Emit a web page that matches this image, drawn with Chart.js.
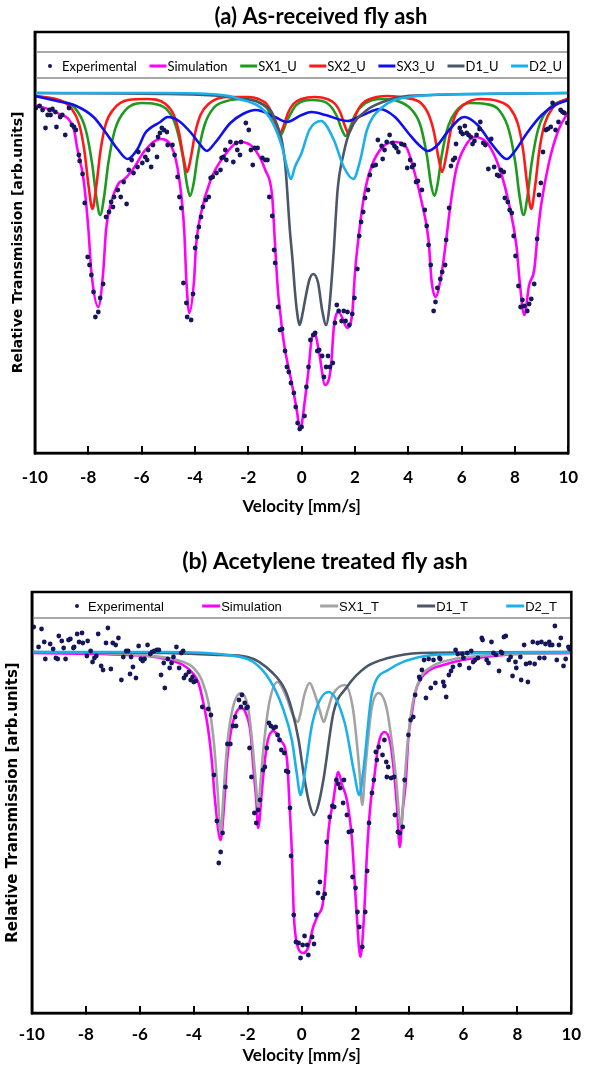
<!DOCTYPE html>
<html>
<head>
<meta charset="utf-8">
<script src="https://cdn.jsdelivr.net/npm/chart.js@4.4.0/dist/chart.umd.min.js"></script>
<style>
  html, body { margin: 0; padding: 0; background: #fff; }
  .panel { position: absolute; left: 0; width: 600px; }
  #panelA { top: 0; height: 535px; }
  #panelB { top: 535px; height: 538px; }
</style>
</head>
<body>
<div class="panel" id="panelA"><canvas id="chartA" width="600" height="535"></canvas></div>
<div class="panel" id="panelB"><canvas id="chartB" width="600" height="538"></canvas></div>
<script>
// ---------------------------------------------------------------- DATA (velocity in mm/s, transmission in arb. units)
const velTicks = [-10, -8, -6, -4, -2, 0, 2, 4, 6, 8, 10];

// (a) As-received fly ash
const expA_v = [-9.96,-9.82,-9.71,-9.60,-9.52,-9.45,-9.41,-9.34,-9.23,-9.19,-9.05,-8.97,-8.86,-8.72,-8.61,-8.53,-8.46,-8.35,-8.32,-8.21,-8.13,-8.02,-7.95,-7.88,-7.80,-7.73,-7.62,-7.55,-7.44,-7.33,-7.22,-7.14,-7.07,-7.03,-6.89,-6.78,-6.67,-6.56,-6.48,-6.37,-6.30,-6.15,-6.12,-5.97,-5.86,-5.79,-5.75,-5.64,-5.57,-5.42,-5.38,-5.31,-5.24,-5.16,-5.05,-5.02,-4.84,-4.76,-4.65,-4.58,-4.51,-4.43,-4.32,-4.29,-4.14,-4.07,-3.99,-3.92,-3.85,-3.77,-3.70,-3.59,-3.48,-3.41,-3.33,-3.19,-3.04,-3.00,-2.93,-2.86,-2.82,-2.67,-2.56,-2.45,-2.41,-2.31,-2.27,-2.09,-1.98,-1.90,-1.83,-1.76,-1.65,-1.47,-1.36,-1.28,-1.21,-1.10,-1.03,-0.99,-0.88,-0.81,-0.73,-0.62,-0.55,-0.48,-0.40,-0.29,-0.22,-0.15,-0.07,0.00,0.11,0.18,0.26,0.33,0.44,0.51,0.59,0.66,0.77,0.84,0.92,0.99,1.06,1.17,1.25,1.32,1.39,1.50,1.58,1.65,1.72,1.79,1.90,1.98,2.09,2.16,2.23,2.31,2.38,2.49,2.56,2.67,2.78,2.86,3.00,3.04,3.11,3.19,3.30,3.41,3.48,3.55,3.63,3.74,3.85,3.96,4.07,4.14,4.21,4.29,4.36,4.51,4.62,4.69,4.76,4.84,4.95,5.02,5.09,5.20,5.27,5.38,5.42,5.53,5.60,5.68,5.75,5.79,5.93,5.97,6.04,6.12,6.19,6.26,6.34,6.41,6.48,6.56,6.67,6.70,6.81,6.89,7.00,7.11,7.22,7.33,7.40,7.47,7.58,7.62,7.73,7.80,7.88,7.95,8.02,8.13,8.21,8.28,8.35,8.46,8.53,8.61,8.72,8.83,8.90,8.97,9.05,9.16,9.23,9.34,9.41,9.52,9.63,9.71,9.78,9.85,9.96];
const expA_t = [345,347,343,325,338,343,338,344,341,326,336,338,318,345,328,326,323,298,292,279,250,196,188,178,161,136,141,155,169,236,241,251,246,256,263,256,271,249,283,293,280,286,301,290,296,293,303,286,308,296,316,320,325,323,321,308,308,298,276,256,245,170,150,136,133,159,205,216,226,236,246,253,256,275,276,280,283,295,296,303,293,311,291,310,303,298,311,330,323,303,288,305,305,295,293,293,256,237,203,190,146,123,124,102,86,81,70,60,46,30,24,26,37,66,86,113,118,120,102,103,97,76,86,97,86,90,130,148,142,132,142,132,141,128,139,155,184,217,231,241,255,263,278,287,288,313,307,294,303,311,318,310,307,305,301,309,308,285,293,286,288,271,272,263,243,227,208,188,142,151,165,174,181,188,213,245,287,293,295,309,325,321,319,327,320,318,316,309,312,318,324,331,310,308,284,314,286,278,277,283,281,255,251,243,240,217,197,167,146,153,147,142,149,154,169,214,258,270,301,323,324,326,350,323,331,343,341,340,330];

const simA_v = [-10.0,-9.16,-8.53,-8.42,-8.17,-7.99,-7.88,-7.62,-7.44,-7.33,-7.14,-6.85,-6.67,-6.34,-5.86,-5.31,-4.87,-4.58,-4.40,-4.32,-4.21,-4.03,-3.96,-3.77,-3.41,-2.93,-2.31,-1.83,-1.36,-1.10,-0.99,-0.88,-0.81,-0.73,-0.62,-0.37,-0.18,-0.07,0.0,0.11,0.26,0.37,0.48,0.66,0.88,1.10,1.21,1.39,1.72,1.90,2.01,2.20,2.38,2.64,3.04,3.48,3.92,4.21,4.51,4.76,4.87,5.02,5.24,5.42,5.57,5.79,6.12,6.48,6.96,7.44,7.80,8.06,8.17,8.35,8.53,8.72,8.83,8.97,9.27,9.63,10.0];
const simA_t = [348,340,323,306,273,223,181,146,180,223,250,270,273,283,303,314,306,273,223,173,140,173,206,240,273,296,311,306,283,256,206,160,143,123,103,70,43,25,28,50,83,113,120,100,68,86,126,141,125,140,183,230,263,288,306,311,306,283,250,213,173,156,178,213,246,283,306,316,310,283,246,206,173,138,168,183,213,246,290,323,341];

const sx1A_v = [-10,-9.0,-8.5,-8.1,-7.85,-7.7,-7.55,-7.4,-7.25,-7.0,-6.6,-6.0,-5.5,-5.0,-4.7,-4.45,-4.3,-4.18,-4.05,-3.9,-3.65,-3.3,-2.8,-2.2,-1.7,-1.3,-1.05,-0.81,-0.55,-0.2,0.4,0.95,1.3,1.5,1.65,1.8,2.0,2.35,3.0,3.6,4.1,4.45,4.7,4.85,4.98,5.1,5.25,5.5,5.8,6.3,6.9,7.4,7.77,8.02,8.17,8.32,8.47,8.62,8.87,9.3,10];
const sx1A_t = [357,352,345,324,289,257,238,257,289,323,343,350,349,342,326,296,269,257,269,296,327,345,352,354,352,345,331,317,332,348,353,350,338,324,317,324,338,349,354,352,344,328,297,269,257,269,297,327,342,350,349,343,323,289,257,238,257,289,324,345,354];

const sx2A_v = [-10,-9.0,-8.64,-8.34,-8.14,-7.99,-7.84,-7.69,-7.54,-7.34,-7.04,-6.5,-5.8,-5.1,-4.79,-4.59,-4.44,-4.29,-4.14,-3.99,-3.79,-3.49,-2.8,-2.0,-1.61,-1.31,-1.11,-0.96,-0.81,-0.66,-0.51,-0.31,0.0,0.5,0.96,1.26,1.46,1.61,1.76,1.91,2.06,2.26,2.56,3.2,3.9,4.47,4.77,4.97,5.12,5.27,5.42,5.57,5.77,6.07,6.7,7.35,7.81,8.11,8.31,8.46,8.61,8.76,8.91,9.11,9.41,10];
const sx2A_t = [357,352,345,329,302,268,244,268,302,329,344,353,354,349,338,320,297,281,297,320,338,349,356,356,354,349,340,328,320,328,340,349,354,356,354,349,340,328,320,328,340,349,354,357,355,350,338,320,297,281,297,320,338,348,354,352,345,329,302,268,244,268,302,329,345,355];

const sx3A_v = [-10,-9.0,-8.53,-7.8,-7.33,-6.9,-6.52,-6.15,-5.86,-5.3,-5.02,-4.6,-4.14,-3.85,-3.55,-3.25,-2.67,-2.2,-1.72,-1.0,-0.55,0.0,0.37,0.9,1.72,2.3,2.93,3.5,4.0,4.4,4.73,5.1,5.5,6.1,6.6,7.1,7.4,7.69,8.0,8.45,9.0,9.5,10];
const sx3A_t = [357,351,348,336,320,304,294,304,320,331,336,332,320,310,302,310,330,339,343,336,331,338,341,338,332,338,344,336,320,308,302,308,322,336,328,310,300,294,302,320,338,348,353];

const d1A_v = [-10,-5.0,-3.0,-2.5,-1.57,-0.99,-0.62,-0.44,-0.33,-0.26,-0.18,-0.07,0.04,0.11,0.29,0.44,0.62,0.77,0.92,1.03,1.2,1.35,1.58,1.83,2.45,3.04,3.66,4.87,10];
const d1A_t = [360,359,357,355,350,333,290,223,190,165,143,128,140,150,173,179,170,143,128,143,200,263,300,323,343,351,356,358,360];

const d2A_v = [-10,-5.0,-3.0,-2.45,-1.21,-0.73,-0.55,-0.40,-0.25,0.0,0.29,0.73,1.21,1.58,1.94,2.2,2.45,3.04,4.03,6.1,10];
const d2A_t = [360,360,358,355,336,306,286,274,286,300,323,332,313,286,274,293,323,346,356,359,360];

// (b) Acetylene treated fly ash
const expB_v = [-9.93,-9.75,-9.64,-9.54,-9.5,-9.32,-9.21,-9.11,-9.04,-9.0,-8.89,-8.82,-8.75,-8.64,-8.57,-8.46,-8.43,-8.32,-8.25,-8.14,-8.11,-7.96,-7.93,-7.82,-7.75,-7.68,-7.61,-7.54,-7.43,-7.36,-7.25,-7.18,-7.07,-7.0,-6.89,-6.79,-6.68,-6.61,-6.5,-6.43,-6.36,-6.32,-6.25,-6.14,-6.04,-5.96,-5.89,-5.82,-5.71,-5.61,-5.54,-5.46,-5.36,-5.29,-5.21,-5.11,-5.07,-4.96,-4.89,-4.82,-4.75,-4.64,-4.54,-4.46,-4.39,-4.36,-4.29,-4.18,-4.11,-4.04,-4.0,-3.93,-3.68,-3.46,-3.36,-3.25,-3.14,-3.07,-3.0,-2.93,-2.82,-2.75,-2.64,-2.54,-2.46,-2.43,-2.32,-2.25,-2.21,-2.11,-2.04,-2.0,-1.93,-1.86,-1.75,-1.68,-1.61,-1.54,-1.43,-1.36,-1.29,-1.21,-1.14,-1.04,-0.96,-0.89,-0.82,-0.75,-0.64,-0.57,-0.5,-0.43,-0.39,-0.29,-0.21,-0.11,-0.04,0.04,0.11,0.21,0.25,0.39,0.46,0.54,0.61,0.68,0.79,0.86,0.93,1.04,1.14,1.21,1.29,1.36,1.43,1.54,1.57,1.68,1.75,1.86,1.89,2.0,2.07,2.14,2.25,2.36,2.43,2.5,2.61,2.68,2.75,2.79,2.86,3.0,3.07,3.14,3.16,3.21,3.32,3.43,3.46,3.57,3.64,3.75,3.82,3.96,4.04,4.14,4.21,4.36,4.39,4.46,4.54,4.61,4.71,4.79,4.89,4.96,5.11,5.14,5.25,5.29,5.36,5.46,5.54,5.61,5.71,5.79,5.86,5.96,6.0,6.14,6.21,6.29,6.36,6.43,6.54,6.68,6.71,6.86,6.93,7.04,7.11,7.21,7.32,7.39,7.43,7.5,7.57,7.68,7.75,7.82,7.93,7.96,8.11,8.14,8.25,8.32,8.39,8.46,8.57,8.64,8.75,8.82,8.89,9.0,9.04,9.18,9.21,9.29,9.39,9.46,9.54,9.61,9.71,9.79,9.89,9.93];
const expB_t = [386,366,384,371,354,369,364,355,354,377,372,365,354,373,374,365,366,379,371,380,370,357,372,362,351,355,357,379,347,343,370,385,344,370,368,375,333,356,362,362,339,356,346,335,367,354,352,354,368,359,361,362,363,363,338,350,325,354,345,350,356,366,345,360,362,335,338,341,333,336,331,332,306,304,298,238,192,150,161,180,226,269,269,287,296,287,313,306,318,310,305,306,265,236,200,190,203,213,243,246,265,290,287,285,286,278,273,263,260,242,241,205,157,98,71,70,55,68,77,68,58,76,69,98,120,131,115,119,171,196,207,206,233,229,225,210,233,198,181,182,136,125,101,86,66,101,142,190,220,233,261,253,266,258,273,251,236,246,235,236,198,181,180,186,233,278,293,296,318,336,334,343,353,315,354,325,353,330,355,354,331,327,316,338,342,346,363,359,348,359,355,360,345,362,351,353,355,375,373,353,350,371,360,358,342,361,360,376,377,353,356,337,351,345,356,333,368,349,331,350,371,349,370,355,371,355,369,371,368,368,387,353,368,375,347,354,366,364];

const simB_v = [-10,-5.71,-4.89,-4.39,-4.04,-3.82,-3.64,-3.46,-3.32,-3.21,-3.0,-2.86,-2.75,-2.61,-2.43,-2.25,-2.07,-1.89,-1.79,-1.68,-1.61,-1.46,-1.36,-1.25,-1.04,-0.79,-0.54,-0.46,-0.36,-0.29,-0.18,0.07,0.25,0.43,0.61,0.79,0.89,1.0,1.18,1.36,1.5,1.68,1.86,2.04,2.18,2.32,2.43,2.57,2.68,2.86,3.07,3.29,3.43,3.54,3.64,3.75,3.86,3.96,4.07,4.21,4.39,4.75,5.25,5.96,6.79,7.96,10];
const simB_t = [360,357,353,348,340,330,310,283,250,213,173,213,256,283,300,305,300,280,246,213,185,226,253,273,282,273,253,215,160,100,70,60,66,86,98,110,140,183,213,241,228,213,176,100,56,100,163,213,233,270,281,270,240,205,166,203,230,276,296,320,333,343,348,353,356,359,360];

const sx1B_v = [-10,-6,-4.5,-4.0,-3.7,-3.45,-3.25,-3.12,-3.0,-2.88,-2.75,-2.55,-2.25,-1.98,-1.82,-1.71,-1.61,-1.51,-1.4,-1.2,-0.89,-0.55,-0.35,-0.14,-0.02,0.1,0.3,0.5,0.68,0.82,0.96,1.15,1.61,1.9,2.05,2.15,2.25,2.35,2.45,2.6,2.86,3.15,3.35,3.5,3.68,3.8,3.93,4.12,4.4,4.8,5.5,7,10];
const sx1B_t = [361,358,352,345,333,310,270,225,180,225,270,305,320,305,268,235,206,235,268,310,331,315,300,291,302,318,330,318,302,291,302,318,328,305,270,240,208,240,270,305,320,305,270,235,186,225,270,310,335,346,353,358,360];

const d1B_v = [-10,-5,-3,-2.0,-1.07,-0.61,-0.36,-0.11,0.1,0.3,0.46,0.62,0.82,1.18,1.68,2.39,3.21,4.39,10];
const d1B_t = [361,360,358,356,340,323,303,273,235,208,198,208,235,300,326,346,355,360,361];

const d2B_v = [-10,-5,-2.75,-1.79,-1.18,-0.71,-0.36,-0.18,-0.04,0.12,0.4,1.0,1.6,1.95,2.14,2.3,2.61,3.21,4.39,5.71,10];
const d2B_t = [361,361,358,351,333,306,273,240,218,240,290,321,290,240,218,245,320,343,356,359,361];

// ---------------------------------------------------------------- HELPERS
function pts(v, t) {
    return v.map((x, i) => ({x: x, y: t[i]}));
}

function dots(label, v, t) {
    return {label: label, data: pts(v, t), showLine: false, pointRadius: 2.4, pointHoverRadius: 2.4,
            pointBackgroundColor: '#16165c', pointBorderWidth: 0, borderColor: '#16165c', order: 0};
}

function curve(label, v, t, color, order) {
    return {label: label, data: pts(v, t), showLine: true, pointRadius: 0, borderColor: color,
            backgroundColor: color, borderWidth: 2.6, cubicInterpolationMode: 'monotone', fill: false, order: order};
}

// frame, legend strip and heading drawn inside the plot box like the original figure
const framePlugin = {
    id: 'frame',
    afterDatasetsDraw(chart, args, o) {
        const ctx = chart.ctx;
        const a = chart.chartArea;
        ctx.save();
        ctx.strokeStyle = '#8c8c8c';
        ctx.lineWidth = 1.3;
        o.rules.forEach(y => {
            ctx.beginPath(); ctx.moveTo(a.left, y); ctx.lineTo(a.right, y); ctx.stroke();
        });

        ctx.font = o.legendFont;
        ctx.textBaseline = 'middle';
        ctx.textAlign = 'left';
        const sets = chart.data.datasets;
        const w = sets.map(d => (d.showLine ? o.lineW : o.dotW) + ctx.measureText(d.label).width);
        const gap = (o.legendRight - o.legendLeft - w.reduce((s, v) => s + v, 0)) / (sets.length - 1);
        let x = o.legendLeft;
        sets.forEach((d, i) => {
            if (d.showLine) {
                ctx.strokeStyle = d.borderColor;
                ctx.lineWidth = 3;
                ctx.beginPath(); ctx.moveTo(x, o.legendY); ctx.lineTo(x + o.lineW - 1, o.legendY); ctx.stroke();
            } else {
                ctx.fillStyle = d.pointBackgroundColor;
                ctx.beginPath(); ctx.arc(x + 3, o.legendY, 2, 0, Math.PI * 2); ctx.fill();
            }
            ctx.fillStyle = '#000';
            ctx.fillText(d.label, x + (d.showLine ? o.lineW : o.dotW), o.legendY + 1);
            x += w[i] + gap;
        });

        ctx.strokeStyle = '#000';
        ctx.lineWidth = 2.5;
        ctx.strokeRect(a.left, a.top, a.right - a.left, a.bottom - a.top);

        ctx.fillStyle = '#000';
        ctx.font = o.titleFont;
        ctx.textAlign = 'center';
        ctx.fillText(o.title, o.titleX, o.titleY);
        ctx.restore();
    }
};

function spectrumChart(id, datasets, L) {
    return new Chart(document.getElementById(id).getContext('2d'), {
        type: 'scatter',
        data: {datasets: datasets},
        plugins: [framePlugin],
        options: {
            responsive: false,
            animation: false,
            events: [],
            layout: {padding: {left: 0, right: L.padRight, top: L.padTop, bottom: 0}},
            plugins: {
                legend: {display: false},
                tooltip: {enabled: false},
                frame: L.frame
            },
            scales: {
                x: {
                    type: 'linear', min: -10, max: 10,
                    afterBuildTicks: s => { s.ticks = velTicks.map(v => ({value: v})); },
                    ticks: {color: '#000', font: {family: 'Lato', size: 17, weight: 'bold'}, padding: L.tickPad, maxRotation: 0, autoSkip: false},
                    grid: {drawOnChartArea: false, drawTicks: true, tickLength: -7, color: '#000', lineWidth: 2},
                    border: {display: true, color: '#000', width: 2.5},
                    title: {display: true, text: 'Velocity [mm/s]', color: '#000',
                            font: {family: 'Lato', size: 17, weight: 'bold'}, padding: {top: 0, bottom: L.titlePad}},
                    afterFit: s => { s.height = L.xHeight; }
                },
                y: {
                    min: 0, max: 421,
                    ticks: {display: false},
                    grid: {display: false, drawTicks: false},
                    border: {display: true, color: '#000', width: 2.5},
                    title: {display: true, text: 'Relative Transmission [arb.units]', color: '#000',
                            font: {family: 'DejaVu Sans', size: L.ySize, weight: 'bold'}, padding: {top: 2, bottom: 0}},
                    afterFit: s => { s.width = L.yWidth; }
                }
            }
        }
    });
}

// ---------------------------------------------------------------- CHART (a)
spectrumChart('chartA', [
    dots('Experimental', expA_v, expA_t),
    curve('Simulation', simA_v, simA_t, '#ff00ff', 6),
    curve('SX1_U', sx1A_v, sx1A_t, '#1e9a1e', 5),
    curve('SX2_U', sx2A_v, sx2A_t, '#ff1a1a', 4),
    curve('SX3_U', sx3A_v, sx3A_t, '#1010ee', 3),
    curve('D1_U', d1A_v, d1A_t, '#4b5668', 2),
    curve('D2_U', d2A_v, d2A_t, '#1cb0ea', 1)
], {
    padTop: 32, padRight: 27, yWidth: 27, xHeight: 82, tickPad: 21.8, titlePad: 17.8, ySize: 14,
    frame: {rules: [52, 78], legendY: 66, legendLeft: 47, legendRight: 562, dotW: 15, lineW: 18,
            legendFont: '13px Lato', title: '(a) As-received fly ash', titleFont: 'bold 22px Lato', titleX: 321, titleY: 17}
});

// ---------------------------------------------------------------- CHART (b)
spectrumChart('chartB', [
    dots('Experimental', expB_v, expB_t),
    curve('Simulation', simB_v, simB_t, '#ff00ff', 4),
    curve('SX1_T', sx1B_v, sx1B_t, '#a3a3a3', 3),
    curve('D1_T', d1B_v, d1B_t, '#4b5668', 2),
    curve('D2_T', d2B_v, d2B_t, '#1cb0ea', 1)
], {
    padTop: 57, padRight: 10, yWidth: 30, xHeight: 60, tickPad: 18.8, titlePad: 6.8, ySize: 15,
    frame: {rules: [83], legendY: 71, legendLeft: 74, legendRight: 557, dotW: 14, lineW: 19,
            legendFont: "13px 'Liberation Sans'", title: '(b) Acetylene treated fly ash', titleFont: 'bold 23px Lato', titleX: 325, titleY: 27}
});
</script>
</body>
</html>
